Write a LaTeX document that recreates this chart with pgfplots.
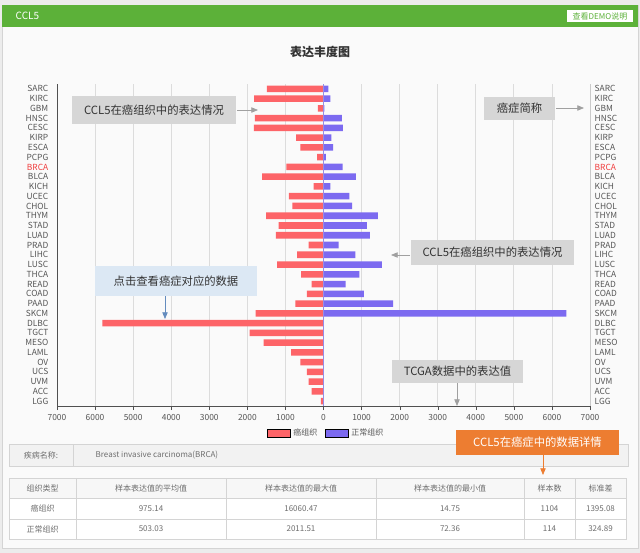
\documentclass[border=0pt]{standalone}
\usepackage{fontspec}
\setmainfont{Noto Sans CJK SC}
\usepackage{pgfplots}
\pgfplotsset{compat=1.18}
\usetikzlibrary{arrows.meta}
\definecolor{hdrgreen}{RGB}{92,177,57}
\definecolor{barred}{RGB}{253,100,104}
\definecolor{barblue}{RGB}{124,106,240}
\definecolor{annogray}{RGB}{214,214,214}
\definecolor{annoblue}{RGB}{220,232,244}
\definecolor{orangebox}{RGB}{237,125,49}
\definecolor{gridgray}{RGB}{220,220,220}
\definecolor{axisgray}{RGB}{80,80,80}
\definecolor{labelgray}{RGB}{85,85,85}
\definecolor{pagebg}{RGB}{236,236,236}
\definecolor{panelbg}{RGB}{250,250,250}
\definecolor{tablebg}{RGB}{242,242,242}
\definecolor{tableline}{RGB}{212,212,212}
\definecolor{tabletext}{RGB}{110,110,110}
\definecolor{zeroline}{RGB}{150,140,230}
\definecolor{brcared}{RGB}{240,60,60}
\definecolor{arrowgray}{RGB}{160,160,160}
\definecolor{arrowblue}{RGB}{100,140,190}
\definecolor{annotext}{RGB}{50,50,50}

\pgfplotstableread{
idx cancer
0 -1490
1 -1820
2 -150
3 -1800
4 -1830
5 -720
6 -610
7 -170
8 -975
9 -1610
10 -260
11 -910
12 -820
13 -1510
14 -1180
15 -1250
16 -390
17 -690
18 -1220
19 -590
20 -310
21 -440
22 -740
23 -1780
24 -5810
25 -1940
26 -1570
27 -850
28 -610
29 -440
30 -390
31 -310
32 -70
}\cancerdata

\pgfplotstableread{
idx normal
0 130
1 180
2 20
3 480
4 510
5 210
6 250
7 60
8 503
9 850
10 180
11 680
12 750
13 1430
14 1140
15 1220
16 400
17 840
18 1530
19 940
20 580
21 1060
22 1830
23 6380
}\normaldata

\newcommand{\cats}{SARC,KIRC,GBM,HNSC,CESC,KIRP,ESCA,PCPG,{\textcolor{brcared}{BRCA}},BLCA,KICH,UCEC,CHOL,THYM,STAD,LUAD,PRAD,LIHC,LUSC,THCA,READ,COAD,PAAD,SKCM,DLBC,TGCT,MESO,LAML,OV,UCS,UVM,ACC,LGG}

\begin{document}
\begin{tikzpicture}
\begin{scope}[x=0.75pt,y=-0.75pt]
\useasboundingbox (0,0) rectangle (640,553);
\fill[pagebg] (0,0) rectangle (640,553);
\fill[panelbg] (2,5) rectangle (638,548);
\draw[tableline] (2,5) rectangle (638,548);
\fill[hdrgreen] (2,5) rectangle (638,27);
\node[anchor=west, text=white, font=\fontsize{7.5}{9}\selectfont] at (11,16) {CCL5};
\fill[white] (567,10) rectangle (633,22);
\node[text=hdrgreen, font=\fontsize{6}{7}\selectfont] at (600,16) {查看DEMO说明};
\node[font=\bfseries\fontsize{9}{11}\selectfont, text=annotext] at (320,52) {表达丰度图};
\end{scope}

\begin{axis}[
  at={(42.75pt,-304.5pt)}, anchor=south west,
  scale only axis, width=399.75pt, height=241.5pt,
  xmin=-7000, xmax=7000, ymin=-0.5, ymax=32.5,
  y dir=reverse,
  xbar, bar width=0.67, bar shift=0pt,
  ytick={0,...,32},
  yticklabels/.expanded={\cats},
  xtick={-7000,-6000,...,7000},
  xticklabels={7000,6000,5000,4000,3000,2000,1000,0,1000,2000,3000,4000,5000,6000,7000},
  xmajorgrids, grid style={gridgray, line width=0.6pt},
  axis line style={draw=none},
  ytick style={draw=none},
  xtick style={draw=axisgray},
  xtick pos=bottom, tick align=outside, major tick length=3pt,
  ticklabel style={font=\fontsize{6.3}{7}\selectfont, text=labelgray},
  legend style={at={(0.506,-0.084)}, anchor=center, draw=none, fill=none,
    legend columns=2, font=\fontsize{6}{7}\selectfont, text=labelgray,
    /tikz/every even column/.append style={column sep=4pt}},
  legend image code/.code={\fill[#1, rounded corners=1.5pt] (0pt,-3pt) rectangle (12pt,3pt);},
]
\addplot[draw=none, fill=barred, area legend] table[x=cancer, y=idx] {\cancerdata};
\addlegendentry{癌组织}
\addplot[draw=none, fill=barblue, area legend] table[x=normal, y=idx] {\normaldata};
\addlegendentry{正常组织}
\draw[zeroline, line width=0.6pt] (axis cs:0,-0.5) -- (axis cs:0,32.5);
\draw[axisgray, line width=0.6pt] (axis cs:-7000,-0.5) -- (axis cs:-7000,32.5) -- (axis cs:7000,32.5) -- (axis cs:7000,-0.5);
\end{axis}

\begin{axis}[
  at={(42.75pt,-304.5pt)}, anchor=south west,
  scale only axis, width=399.75pt, height=241.5pt,
  xmin=-7000, xmax=7000, ymin=-0.5, ymax=32.5,
  y dir=reverse,
  ytick={0,...,32},
  yticklabels/.expanded={\cats},
  yticklabel pos=right,
  xtick=\empty,
  axis line style={draw=none},
  ytick style={draw=none},
  ticklabel style={font=\fontsize{6.3}{7}\selectfont, text=labelgray},
]
\end{axis}

\begin{scope}[x=0.75pt,y=-0.75pt]
% annotation boxes
\fill[annogray] (72,96) rectangle (236,124);
\node[text=annotext, font=\fontsize{8.5}{10}\selectfont] at (154,110) {CCL5在癌组织中的表达情况};
\draw[arrowgray, line width=0.6pt, -{Triangle[length=5pt,width=4pt]}] (237,110) -- (258,110);

\fill[annogray] (484,97) rectangle (555,120);
\node[text=annotext, font=\fontsize{8.5}{10}\selectfont] at (519.5,108.5) {癌症简称};
\draw[arrowgray, line width=0.6pt, -{Triangle[length=5pt,width=4pt]}] (556,108) -- (584,108);

\fill[annogray] (411,240) rectangle (574,265);
\node[text=annotext, font=\fontsize{8.5}{10}\selectfont] at (492.5,252.5) {CCL5在癌组织中的表达情况};
\draw[arrowgray, line width=0.6pt, -{Triangle[length=5pt,width=4pt]}] (410,255) -- (391,255);

\fill[annoblue] (95,266) rectangle (257,296);
\node[text=annotext, font=\fontsize{8.5}{10}\selectfont] at (176,281) {点击查看癌症对应的数据};
\draw[arrowblue, line width=0.6pt, -{Triangle[length=5pt,width=4pt]}] (165,296) -- (165,319);

\fill[annogray] (392,360) rectangle (523,383);
\node[text=annotext, font=\fontsize{8.5}{10}\selectfont] at (457.5,371.5) {TCGA数据中的表达值};
\draw[arrowgray, line width=0.6pt, -{Triangle[length=5pt,width=4pt]}] (457,383) -- (457,406);

% table 1
\fill[tablebg] (9,444) rectangle (628,466);
\draw[tableline] (9,444) rectangle (628,466);
\draw[tableline] (73,444) -- (73,466);
\node[text=tabletext, font=\fontsize{6}{7}\selectfont] at (41,455) {疾病名称:};
\node[anchor=west, text=tabletext, font=\fontsize{6}{7}\selectfont] at (91,455) {Breast invasive carcinoma(BRCA)};

% table 2
\fill[white] (9,478) rectangle (626,539);
\fill[tablebg!60!white] (9,478) rectangle (626,498);
\draw[tableline] (9,478) rectangle (626,539);
\draw[tableline] (9,498) -- (626,498);
\draw[tableline] (9,519) -- (626,519);
\foreach \cx in {76,226,376,524,575} {\draw[tableline] (\cx,478) -- (\cx,539);}
\begin{scope}[every node/.style={text=tabletext, font=\fontsize{6}{7}\selectfont}]
\node at (42.5,488) {组织类型};
\node at (151,488) {样本表达值的平均值};
\node at (301,488) {样本表达值的最大值};
\node at (450,488) {样本表达值的最小值};
\node at (549.5,488) {样本数};
\node at (600.5,488) {标准差};
\node at (42.5,508.5) {癌组织};
\node at (151,508.5) {975.14};
\node at (301,508.5) {16060.47};
\node at (450,508.5) {14.75};
\node at (549.5,508.5) {1104};
\node at (600.5,508.5) {1395.08};
\node at (42.5,529) {正常组织};
\node at (151,529) {503.03};
\node at (301,529) {2011.51};
\node at (450,529) {72.36};
\node at (549.5,529) {114};
\node at (600.5,529) {324.89};
\end{scope}

% orange callout
\fill[orangebox] (456,430) rectangle (619,455);
\node[text=white, font=\fontsize{8.5}{10}\selectfont] at (537.5,442.5) {CCL5在癌症中的数据详情};
\draw[orangebox, line width=0.6pt, -{Triangle[length=5pt,width=4pt]}] (543,455) -- (543,475);
\end{scope}
\end{tikzpicture}
\end{document}
